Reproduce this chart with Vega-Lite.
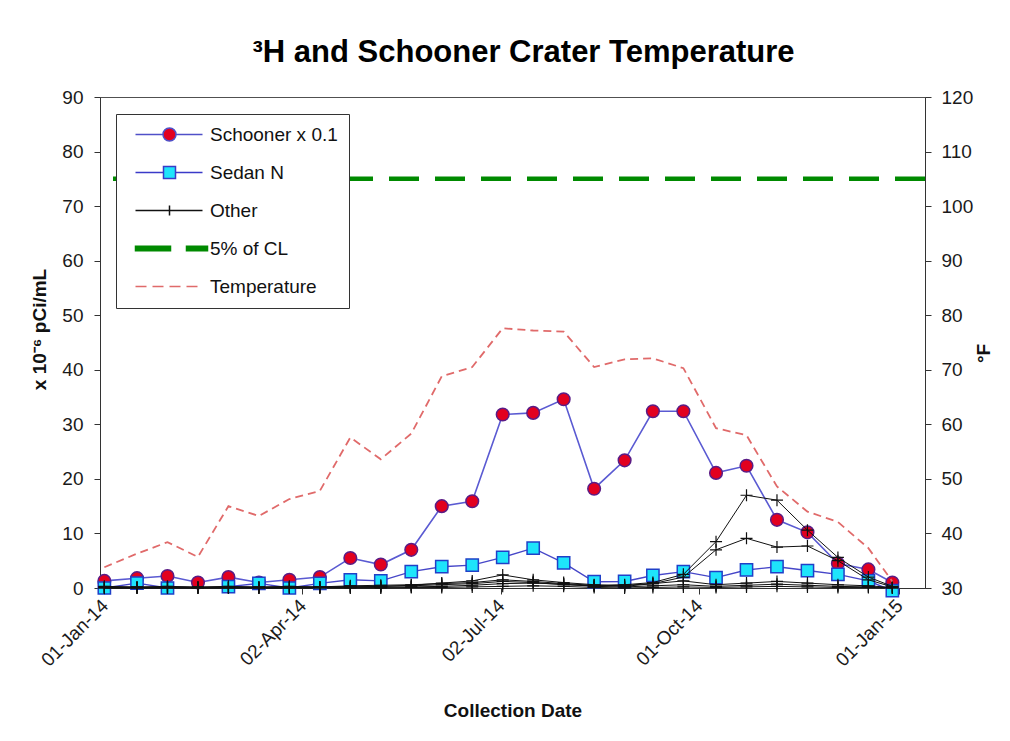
{
  "$schema": "https://vega.github.io/schema/vega-lite/v6.json",
  "width": 825,
  "height": 491,
  "autosize": "none",
  "padding": {"left": 100, "top": 97, "right": 85, "bottom": 153},
  "background": "white",
  "title": {
    "text": "³H and Schooner Crater Temperature",
    "font": "Liberation Sans",
    "fontSize": 31,
    "fontWeight": "bold",
    "color": "#000000",
    "anchor": "middle",
    "dx": 11,
    "dy": 38,
    "offset": 33,
    "baseline": "alphabetic"
  },
  "config": {
    "font": "Liberation Sans",
    "view": {"stroke": "#505050", "strokeWidth": 1},
    "axis": {
      "labelFont": "Liberation Sans",
      "labelFontSize": 19,
      "labelColor": "#1a1a1a",
      "titleFont": "Liberation Sans",
      "titleFontSize": 19,
      "titleFontWeight": "bold",
      "titleColor": "#111111",
      "domainColor": "#333333",
      "tickColor": "#333333",
      "tickSize": 6,
      "grid": false
    }
  },
  "datasets": {
    "samples": [
      {"date": "2014-01-01T00:00:00", "schooner_x01": 1.3, "sedan_n": 0, "other_1": 0.3, "other_2": 0.2, "other_3": 0.1, "other_4": 0, "other_5": 0, "temp_f": 33.8},
      {"date": "2014-01-16T00:00:00", "schooner_x01": 1.8, "sedan_n": 0.9, "other_1": 0.2, "other_2": 0.1, "other_3": 0.1, "other_4": 0, "other_5": 0, "temp_f": 36.3},
      {"date": "2014-01-30T00:00:00", "schooner_x01": 2.2, "sedan_n": 0, "other_1": 0.3, "other_2": 0.2, "other_3": 0, "other_4": 0.1, "other_5": 0, "temp_f": 38.4},
      {"date": "2014-02-13T00:00:00", "schooner_x01": 1.0, "sedan_n": null, "other_1": 0.2, "other_2": 0.1, "other_3": 0.1, "other_4": 0, "other_5": 0, "temp_f": 35.7},
      {"date": "2014-02-27T00:00:00", "schooner_x01": 2.0, "sedan_n": 0.25, "other_1": 0.3, "other_2": 0.2, "other_3": 0, "other_4": 0.1, "other_5": 0, "temp_f": 45.0},
      {"date": "2014-03-13T00:00:00", "schooner_x01": 1.0, "sedan_n": 0.85, "other_1": 0.2, "other_2": 0.1, "other_3": 0.1, "other_4": 0, "other_5": 0, "temp_f": 43.2},
      {"date": "2014-03-27T00:00:00", "schooner_x01": 1.5, "sedan_n": 0, "other_1": 0.3, "other_2": 0.2, "other_3": 0.1, "other_4": 0, "other_5": 0, "temp_f": 46.3},
      {"date": "2014-04-10T00:00:00", "schooner_x01": 2.0, "sedan_n": 0.85, "other_1": 0.2, "other_2": 0.1, "other_3": 0.2, "other_4": 0.1, "other_5": 0, "temp_f": 47.8},
      {"date": "2014-04-24T00:00:00", "schooner_x01": 5.5, "sedan_n": 1.5, "other_1": 0.4, "other_2": 0.3, "other_3": 0.2, "other_4": 0.1, "other_5": 0, "temp_f": 57.6},
      {"date": "2014-05-08T00:00:00", "schooner_x01": 4.3, "sedan_n": 1.3, "other_1": 0.5, "other_2": 0.3, "other_3": 0.3, "other_4": 0.1, "other_5": 0, "temp_f": 53.6},
      {"date": "2014-05-22T00:00:00", "schooner_x01": 7.0, "sedan_n": 3.0, "other_1": 0.6, "other_2": 0.4, "other_3": 0.5, "other_4": 0.2, "other_5": 0.1, "temp_f": 58.3},
      {"date": "2014-06-05T00:00:00", "schooner_x01": 15.0, "sedan_n": 3.9, "other_1": 0.8, "other_2": 0.6, "other_3": 0.9, "other_4": 0.3, "other_5": 0.1, "temp_f": 68.8},
      {"date": "2014-06-19T00:00:00", "schooner_x01": 15.9, "sedan_n": 4.2, "other_1": 1.0, "other_2": 0.8, "other_3": 1.3, "other_4": 0.5, "other_5": 0.2, "temp_f": 70.5},
      {"date": "2014-07-03T00:00:00", "schooner_x01": 31.8, "sedan_n": 5.6, "other_1": 1.5, "other_2": 1.2, "other_3": 2.4, "other_4": 0.8, "other_5": 0.3, "temp_f": 77.6},
      {"date": "2014-07-17T00:00:00", "schooner_x01": 32.1, "sedan_n": 7.3, "other_1": 1.2, "other_2": 1.0, "other_3": 1.5, "other_4": 0.9, "other_5": 0.4, "temp_f": 77.2},
      {"date": "2014-07-31T00:00:00", "schooner_x01": 34.6, "sedan_n": 4.6, "other_1": 0.8, "other_2": 0.6, "other_3": 1.0, "other_4": 0.7, "other_5": 0.3, "temp_f": 77.0},
      {"date": "2014-08-14T00:00:00", "schooner_x01": 18.2, "sedan_n": 1.15, "other_1": 0.5, "other_2": 0.4, "other_3": 0.6, "other_4": 0.3, "other_5": 0.1, "temp_f": 70.5},
      {"date": "2014-08-28T00:00:00", "schooner_x01": 23.4, "sedan_n": 1.2, "other_1": 0.6, "other_2": 0.5, "other_3": 0.3, "other_4": 0.2, "other_5": 0, "temp_f": 71.9},
      {"date": "2014-09-10T00:00:00", "schooner_x01": 32.4, "sedan_n": 2.3, "other_1": 1.0, "other_2": 0.8, "other_3": 0.8, "other_4": 0.4, "other_5": 0.1, "temp_f": 72.1},
      {"date": "2014-09-24T00:00:00", "schooner_x01": 32.4, "sedan_n": 3.0, "other_1": 2.5, "other_2": 2.0, "other_3": 1.3, "other_4": 0.6, "other_5": 0.2, "temp_f": 70.3},
      {"date": "2014-10-09T00:00:00", "schooner_x01": 21.1, "sedan_n": 1.9, "other_1": 8.5, "other_2": 7.0, "other_3": 0.6, "other_4": 0.3, "other_5": 0.1, "temp_f": 59.3},
      {"date": "2014-10-23T00:00:00", "schooner_x01": 22.4, "sedan_n": 3.3, "other_1": 17.0, "other_2": 9.1, "other_3": 0.9, "other_4": 0.5, "other_5": 0.2, "temp_f": 58.0},
      {"date": "2014-11-06T00:00:00", "schooner_x01": 12.5, "sedan_n": 3.9, "other_1": 16.1, "other_2": 7.5, "other_3": 1.2, "other_4": 0.7, "other_5": 0.3, "temp_f": 48.6},
      {"date": "2014-11-20T00:00:00", "schooner_x01": 10.2, "sedan_n": 3.2, "other_1": 10.6, "other_2": 7.7, "other_3": 0.9, "other_4": 0.5, "other_5": 0.2, "temp_f": 44.0},
      {"date": "2014-12-04T00:00:00", "schooner_x01": 4.5, "sedan_n": 2.5, "other_1": 5.6, "other_2": 5.0, "other_3": 0.6, "other_4": 0.3, "other_5": 0.1, "temp_f": 42.1},
      {"date": "2014-12-18T00:00:00", "schooner_x01": 3.4, "sedan_n": 1.3, "other_1": 2.0, "other_2": 1.5, "other_3": 0.4, "other_4": 0.2, "other_5": 0.1, "temp_f": 37.3},
      {"date": "2014-12-29T00:00:00", "schooner_x01": 1.0, "sedan_n": -0.5, "other_1": 0.3, "other_2": 0.2, "other_3": 0.1, "other_4": 0, "other_5": 0, "temp_f": 31.2}
    ],
    "limits": [{"level": 75}]
  },
  "layer": [
    {
      "layer": [
        {
          "data": {"name": "samples"},
          "mark": {"type": "line", "color": "#5a5ad2", "strokeWidth": 1.6},
          "encoding": {
            "x": {"field": "date", "type": "temporal", "title": "Collection Date",
              "scale": {"domain": [{"year": 2013, "month": 12, "date": 30}, {"year": 2015, "month": 1, "date": 13}]},
              "axis": {"values": [{"year": 2014, "month": 1, "date": 1}, {"year": 2014, "month": 4, "date": 2}, {"year": 2014, "month": 7, "date": 2}, {"year": 2014, "month": 10, "date": 1}, {"year": 2015, "month": 1, "date": 1}],
                "format": "%d-%b-%y", "labelAngle": -45, "labelPadding": 2, "labelOffset": -6, "titleY": 122, "titleBaseline": "middle"}},
            "y": {"field": "schooner_x01", "type": "quantitative", "title": "x 10⁻⁶ pCi/mL",
              "scale": {"domain": [0, 90]},
              "axis": {"values": [0, 10, 20, 30, 40, 50, 60, 70, 80, 90], "labelPadding": 11, "titleX": -61, "titleY": 232, "titleAngle": -90, "titleBaseline": "middle"}}
          }
        },
        {
          "data": {"name": "samples"},
          "mark": {"type": "point", "shape": "circle", "filled": true, "fill": "#e2001f", "stroke": "#5a1c86", "strokeWidth": 1.5, "size": 160, "opacity": 1},
          "encoding": {
            "x": {"field": "date", "type": "temporal", "title": "Collection Date"},
            "y": {"field": "schooner_x01", "type": "quantitative", "title": "x 10⁻⁶ pCi/mL"}
          }
        },
        {
          "data": {"name": "samples"},
          "mark": {"type": "line", "color": "#4646c8", "strokeWidth": 1.4},
          "encoding": {
            "x": {"field": "date", "type": "temporal", "title": "Collection Date"},
            "y": {"field": "sedan_n", "type": "quantitative", "title": "x 10⁻⁶ pCi/mL"}
          }
        },
        {
          "data": {"name": "samples"},
          "mark": {"type": "point", "shape": "square", "filled": true, "fill": "#1ee4fb", "stroke": "#2040c8", "strokeWidth": 1.5, "size": 150, "opacity": 1},
          "encoding": {
            "x": {"field": "date", "type": "temporal", "title": "Collection Date"},
            "y": {"field": "sedan_n", "type": "quantitative", "title": "x 10⁻⁶ pCi/mL"}
          }
        },
        {
          "data": {"name": "samples"},
          "transform": [{"fold": ["other_1", "other_2", "other_3", "other_4", "other_5"], "as": ["site", "h3"]}],
          "mark": {"type": "line", "color": "#111111", "strokeWidth": 1},
          "encoding": {
            "x": {"field": "date", "type": "temporal", "title": "Collection Date"},
            "y": {"field": "h3", "type": "quantitative", "title": "x 10⁻⁶ pCi/mL"},
            "detail": {"field": "site", "type": "nominal"}
          }
        },
        {
          "data": {"name": "samples"},
          "transform": [{"fold": ["other_1", "other_2", "other_3", "other_4", "other_5"], "as": ["site", "h3"]}],
          "mark": {"type": "point", "shape": "M-1,0H1M0,-1V1", "filled": false, "stroke": "#111111", "strokeWidth": 1.2, "size": 144, "opacity": 1},
          "encoding": {
            "x": {"field": "date", "type": "temporal", "title": "Collection Date"},
            "y": {"field": "h3", "type": "quantitative", "title": "x 10⁻⁶ pCi/mL"},
            "detail": {"field": "site", "type": "nominal"}
          }
        },
        {
          "data": {"name": "limits"},
          "mark": {"type": "rule", "color": "#008a00", "strokeWidth": 4.5, "strokeDash": [30, 16]},
          "encoding": {
            "y": {"field": "level", "type": "quantitative", "title": "x 10⁻⁶ pCi/mL"}
          }
        }
      ]
    },
    {
      "data": {"name": "samples"},
      "mark": {"type": "line", "color": "#e06a6a", "strokeWidth": 1.8, "strokeDash": [8, 5]},
      "encoding": {
        "x": {"field": "date", "type": "temporal", "title": "Collection Date"},
        "y": {"field": "temp_f", "type": "quantitative", "title": "°F",
          "scale": {"domain": [30, 120]},
          "axis": {"orient": "right", "values": [30, 40, 50, 60, 70, 80, 90, 100, 110, 120], "labelPadding": 10, "titleX": 58, "titleY": 256, "titleAngle": -90, "titleBaseline": "middle"}}
      }
    },
    {
      "data": {"values": []},
      "mark": {"type": "point", "opacity": 1},
      "encoding": {
        "shape": {"field": "series", "type": "nominal",
          "scale": {"domain": ["Schooner x 0.1", "Sedan N", "Other", "5% of CL", "Temperature"],
            "range": [
              "M-6.8,0H-1.3M1.3,0H6.6M-1.3,0A1.3,1.3,0,1,1,1.3,0A1.3,1.3,0,1,1,-1.3,0Z",
              "M-6.8,0H-1.2M1.2,0H6.6M-1.2,-1.2H1.2V1.2H-1.2Z",
              "M-6.8,0H6.6M0,-1V1",
              "M-6.8,-0.45H0.2V0.45H-6.8ZM3.4,-0.45H7.6V0.45H3.4Z",
              "M-6.8,0H-4.6M-3.4,0H-1.2M0,0H2.2M3.4,0H5.6"
            ]},
          "legend": {"title": null, "orient": "none", "legendX": 16, "legendY": 17, "fillColor": "white", "strokeColor": "#333333", "padding": 11, "symbolSize": 100, "symbolStrokeWidth": 1.5, "labelFontSize": 19, "labelFont": "Liberation Sans", "labelColor": "#111111", "rowPadding": 18, "symbolOffset": 33, "labelOffset": 31}},
        "fill": {"field": "series", "type": "nominal",
          "scale": {"domain": ["Schooner x 0.1", "Sedan N", "Other", "5% of CL", "Temperature"],
            "range": ["#e2001f", "#1ee4fb", "transparent", "#008a00", "transparent"]}},
        "stroke": {"field": "series", "type": "nominal",
          "scale": {"domain": ["Schooner x 0.1", "Sedan N", "Other", "5% of CL", "Temperature"],
            "range": ["#5050c8", "#3a3ac8", "#111111", "#008a00", "#e06a6a"]}}
      }
    }
  ],
  "resolve": {"scale": {"y": "independent"}}
}
